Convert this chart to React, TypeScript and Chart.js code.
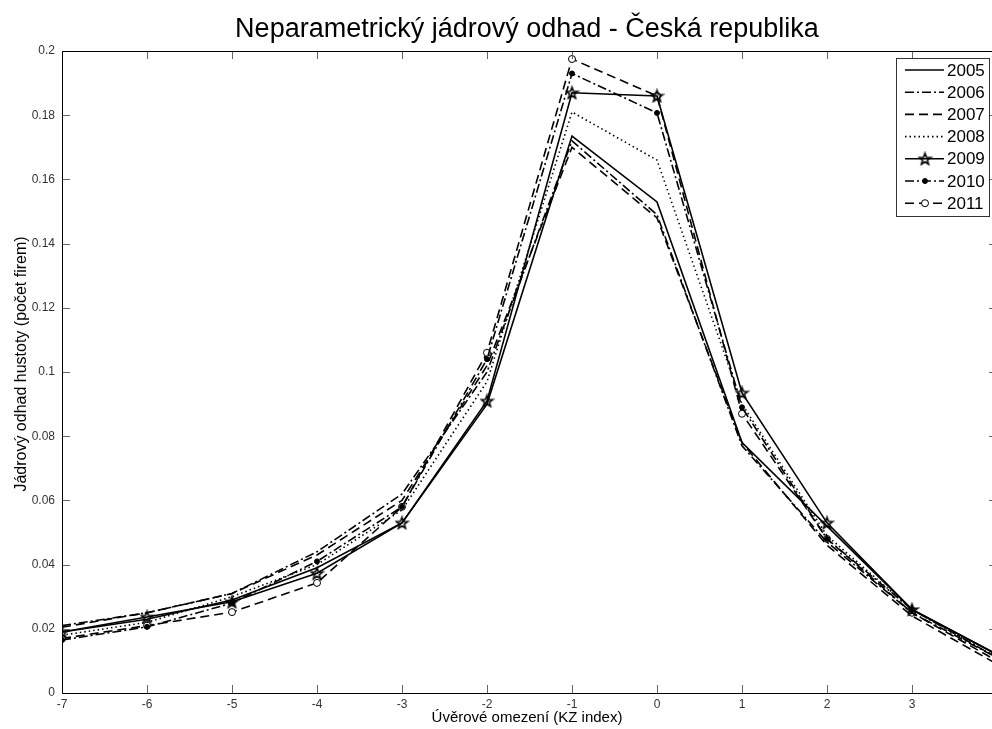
import React, { useEffect, useRef } from "react";
import { Chart, registerables } from "chart.js";

Chart.register(...registerables);

// KZ index values on the horizontal axis
const kzIndex = [-7, -6, -5, -4, -3, -2, -1, 0, 1, 2, 3, 4];

// Kernel density estimates per year
const y2005 = [0.019, 0.023, 0.029, 0.039, 0.053, 0.09, 0.1735, 0.153, 0.078, 0.052, 0.026, 0.012];
const y2006 = [0.021, 0.025, 0.031, 0.044, 0.062, 0.1, 0.172, 0.149, 0.077, 0.047, 0.025, 0.011];
const y2007 = [0.0205, 0.025, 0.031, 0.043, 0.06, 0.102, 0.17, 0.148, 0.078, 0.046, 0.024, 0.009];
const y2008 = [0.018, 0.022, 0.03, 0.04, 0.057, 0.097, 0.181, 0.166, 0.09, 0.049, 0.026, 0.011];
const y2009 = [0.019, 0.0237, 0.0284, 0.0373, 0.053, 0.091, 0.187, 0.186, 0.0935, 0.053, 0.026, 0.012];
const y2010 = [0.0165, 0.0206, 0.028, 0.041, 0.058, 0.104, 0.193, 0.1807, 0.089, 0.048, 0.026, 0.011];
const y2011 = [0.017, 0.021, 0.0252, 0.0343, 0.058, 0.106, 0.1975, 0.186, 0.087, 0.048, 0.025, 0.01];

const years = ["2005", "2006", "2007", "2008", "2009", "2010", "2011"];
const seriesValues = [y2005, y2006, y2007, y2008, y2009, y2010, y2011];

const xTicks = [-7, -6, -5, -4, -3, -2, -1, 0, 1, 2, 3, 4];
const xTickLabels = ["-7", "-6", "-5", "-4", "-3", "-2", "-1", "0", "1", "2", "3", ""];
const yTicks = [0, 0.02, 0.04, 0.06, 0.08, 0.1, 0.12, 0.14, 0.16, 0.18, 0.2];

const TITLE = "Neparametrický jádrový odhad - Česká republika";
const X_LABEL = "Úvěrové omezení (KZ index)";
const Y_LABEL = "Jádrový odhad hustoty (počet firem)";

const FONT = "'Liberation Sans', Arial, Helvetica, sans-serif";

function makePentagram(): HTMLCanvasElement {
  const size = 15;
  const c = document.createElement("canvas");
  c.width = size;
  c.height = size;
  const ctx = c.getContext("2d")!;
  const cx = size / 2;
  const cy = size / 2 + 0.5;
  const rOuter = 6;
  const rInner = 2.5;
  ctx.beginPath();
  for (let i = 0; i < 10; i++) {
    const r = i % 2 === 0 ? rOuter : rInner;
    const a = -Math.PI / 2 + (i * Math.PI) / 5;
    const px = cx + r * Math.cos(a);
    const py = cy + r * Math.sin(a);
    if (i === 0) ctx.moveTo(px, py);
    else ctx.lineTo(px, py);
  }
  ctx.closePath();
  ctx.strokeStyle = "#000";
  ctx.lineWidth = 1.6;
  ctx.stroke();
  return c;
}

type Style = {
  dash: number[];
  point: any;
  radius: number;
  fill: string;
};

export default function App() {
  const canvasRef = useRef<HTMLCanvasElement | null>(null);

  useEffect(() => {
    if (!canvasRef.current) return;
    const star = makePentagram();

    const styles: Style[] = [
      { dash: [], point: "circle", radius: 0, fill: "#000" },
      { dash: [9, 3, 2, 3], point: "circle", radius: 0, fill: "#000" },
      { dash: [9, 5], point: "circle", radius: 0, fill: "#000" },
      { dash: [1.5, 3], point: "circle", radius: 0, fill: "#000" },
      { dash: [], point: star, radius: 6, fill: "#000" },
      { dash: [9, 3, 2, 3], point: "circle", radius: 2.5, fill: "#000" },
      { dash: [9, 5], point: "circle", radius: 3.5, fill: "#fff" },
    ];

    const datasets = years.map((yr, i) => ({
      label: yr,
      data: kzIndex.map((x, j) => ({ x, y: seriesValues[i][j] })),
      borderColor: "#000",
      borderWidth: 1.6,
      borderDash: styles[i].dash,
      pointStyle: styles[i].point,
      pointRadius: styles[i].radius,
      pointBackgroundColor: styles[i].fill,
      pointBorderColor: "#000",
      pointBorderWidth: 1,
      tension: 0,
      fill: false,
    }));

    const decorations = {
      id: "decorations",
      afterDraw(chart: any) {
        const { ctx, chartArea } = chart;
        const { left, right, top, bottom } = chartArea;
        const xs = chart.scales.x;
        const ys = chart.scales.y;
        ctx.save();

        // inward tick marks
        ctx.strokeStyle = "#666";
        ctx.lineWidth = 1;
        ctx.setLineDash([]);
        const tl = 8;
        xTicks.forEach((t) => {
          const px = Math.round(xs.getPixelForValue(t)) + 0.5;
          ctx.beginPath();
          ctx.moveTo(px, bottom);
          ctx.lineTo(px, bottom - tl);
          ctx.moveTo(px, top);
          ctx.lineTo(px, top + tl);
          ctx.stroke();
        });
        yTicks.forEach((t) => {
          const py = Math.round(ys.getPixelForValue(t)) + 0.5;
          ctx.beginPath();
          ctx.moveTo(left, py);
          ctx.lineTo(left + tl, py);
          ctx.moveTo(right, py);
          ctx.lineTo(right - tl, py);
          ctx.stroke();
        });

        // box
        ctx.strokeStyle = "#000";
        ctx.beginPath();
        ctx.moveTo(Math.round(left) + 0.5, Math.round(bottom) + 0.5);
        ctx.lineTo(Math.round(left) + 0.5, Math.round(top) + 0.5);
        ctx.lineTo(Math.round(right) + 0.5, Math.round(top) + 0.5);
        ctx.lineTo(Math.round(right) + 0.5, Math.round(bottom) + 0.5);
        ctx.closePath();
        ctx.stroke();

        // title and axis titles
        ctx.fillStyle = "#000";
        ctx.textAlign = "center";
        ctx.textBaseline = "middle";
        ctx.font = `27px ${FONT}`;
        ctx.fillText(TITLE, 527, 30);
        ctx.font = `15px ${FONT}`;
        ctx.fillText(X_LABEL, 527, 718);
        ctx.save();
        ctx.translate(22, 364);
        ctx.rotate(-Math.PI / 2);
        ctx.font = `16px ${FONT}`;
        ctx.fillText(Y_LABEL, 0, 0);
        ctx.restore();

        // legend
        const bx = 896.5;
        const by = 58.5;
        const bw = 93;
        const bh = 158;
        ctx.fillStyle = "#fff";
        ctx.fillRect(bx, by, bw, bh);
        ctx.strokeStyle = "#333";
        ctx.lineWidth = 1;
        ctx.strokeRect(bx, by, bw, bh);
        ctx.font = `17px ${FONT}`;
        ctx.textAlign = "left";
        ctx.textBaseline = "middle";
        years.forEach((yr, i) => {
          const ry = 70 + i * 22.2;
          const st = styles[i];
          ctx.strokeStyle = "#000";
          ctx.lineWidth = 1.6;
          ctx.setLineDash(st.dash);
          ctx.beginPath();
          ctx.moveTo(905, ry);
          ctx.lineTo(944, ry);
          ctx.stroke();
          ctx.setLineDash([]);
          if (st.radius > 0) {
            if (typeof st.point !== "string") {
              const img = st.point as HTMLCanvasElement;
              ctx.drawImage(img, 925 - img.width / 2, ry - img.height / 2);
            } else {
              ctx.beginPath();
              ctx.arc(925, ry, st.radius, 0, Math.PI * 2);
              ctx.fillStyle = st.fill;
              ctx.fill();
              ctx.lineWidth = 1;
              ctx.stroke();
            }
          }
          ctx.fillStyle = "#000";
          ctx.fillText(yr, 947, ry + 1);
        });
        ctx.restore();
      },
    };

    const chart = new Chart(canvasRef.current, {
      type: "line",
      data: { datasets },
      options: {
        animation: false,
        responsive: false,
        maintainAspectRatio: false,
        layout: { padding: { top: 51, left: 0, right: 0, bottom: 0 } },
        plugins: {
          legend: { display: false },
          tooltip: { enabled: false },
          title: { display: false },
        },
        scales: {
          x: {
            type: "linear",
            min: -7,
            max: 4,
            grid: { display: false, drawTicks: false },
            border: { display: false },
            afterBuildTicks(scale: any) {
              scale.ticks = xTicks.map((v) => ({ value: v }));
            },
            afterFit(scale: any) {
              scale.height = 36;
              scale.paddingLeft = 0;
              scale.paddingRight = 0;
            },
            ticks: {
              padding: 4,
              color: "#333",
              font: { family: FONT, size: 12 },
              maxRotation: 0,
              autoSkip: false,
              callback: (_v: any, i: number) => xTickLabels[i],
            },
          },
          y: {
            type: "linear",
            min: 0,
            max: 0.2,
            grid: { display: false, drawTicks: false },
            border: { display: false },
            afterBuildTicks(scale: any) {
              scale.ticks = yTicks.map((v) => ({ value: v }));
            },
            afterFit(scale: any) {
              scale.width = 62;
              scale.paddingTop = 0;
              scale.paddingBottom = 0;
            },
            ticks: {
              padding: 7,
              color: "#333",
              font: { family: FONT, size: 12 },
              autoSkip: false,
              callback: (v: any) => String(parseFloat(Number(v).toFixed(4))),
            },
          },
        },
      },
      plugins: [decorations],
    });

    return () => chart.destroy();
  }, []);

  return (
    <div
      style={{
        position: "fixed",
        left: 0,
        top: 0,
        width: 992,
        height: 729,
        overflow: "hidden",
        background: "#fff",
      }}
    >
      <canvas ref={canvasRef} width={1004} height={729} style={{ display: "block" }} />
    </div>
  );
}
